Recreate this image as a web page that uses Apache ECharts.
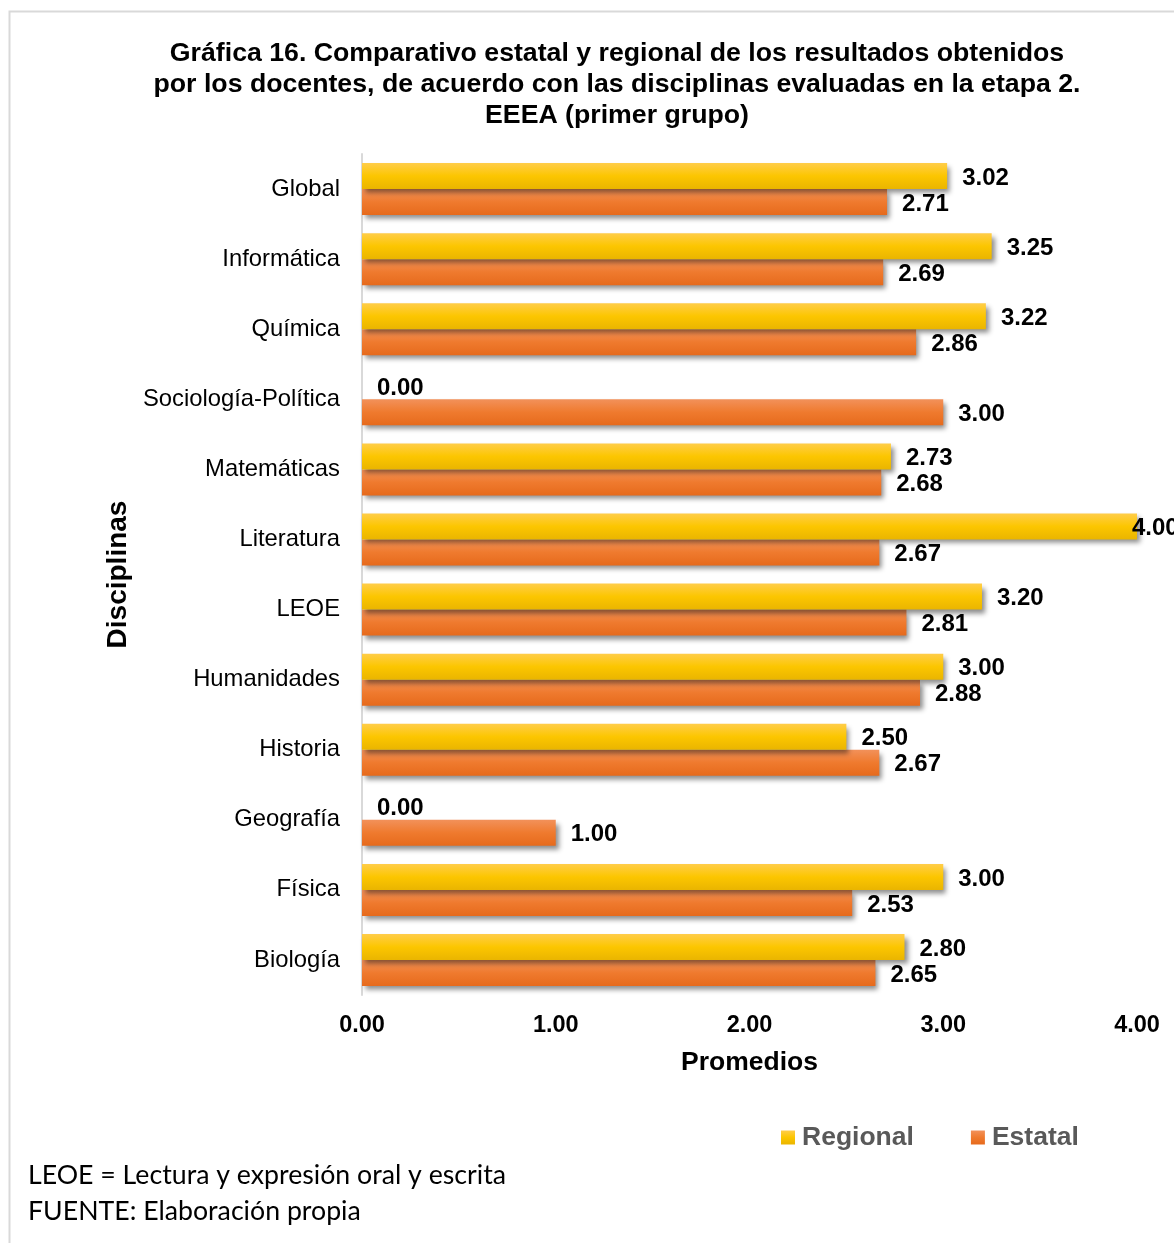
<!DOCTYPE html>
<html>
<head>
<meta charset="utf-8">
<script src="https://cdn.jsdelivr.net/npm/echarts@6/dist/echarts.min.js"></script>
<style>
  html, body { margin: 0; padding: 0; background: #fff; }
  #chart { width: 1174px; height: 1243px; }
</style>
</head>
<body>
<div id="chart"></div>
<script>
// Disciplines, top to bottom
const categories = ['Global', 'Informática', 'Química', 'Sociología-Política', 'Matemáticas',
  'Literatura', 'LEOE', 'Humanidades', 'Historia', 'Geografía', 'Física', 'Biología'];
// Average scores per discipline
const regional = [3.02, 3.25, 3.22, 0.00, 2.73, 4.00, 3.20, 3.00, 2.50, 0.00, 3.00, 2.80];
const estatal  = [2.71, 2.69, 2.86, 3.00, 2.68, 2.67, 2.81, 2.88, 2.67, 1.00, 2.53, 2.65];
const xTicks = [0, 1, 2, 3, 4];

const titleLines = [
  'Gráfica 16. Comparativo estatal y regional de los resultados obtenidos',
  'por los docentes, de acuerdo con las disciplinas evaluadas en la etapa 2.',
  'EEEA (primer grupo)'
];
const notes = ['LEOE = Lectura y expresión oral y escrita', 'FUENTE: Elaboración propia'];

const FONT = '"Liberation Sans", Arial, sans-serif';

const chart = echarts.init(document.getElementById('chart'), null, { renderer: 'canvas' });

const grad = (top, bottom) => new echarts.graphic.LinearGradient(0, 0, 0, 1, [
  { offset: 0, color: top }, { offset: 0.5, color: bottom[0] }, { offset: 1, color: bottom[1] }
]);

const barLabel = {
  show: true,
  position: 'right',
  distance: 15,
  offset: [0, 2],
  color: '#000',
  fontFamily: FONT,
  fontWeight: 'bold',
  fontSize: 24,
  formatter: p => Number(p.value).toFixed(2)
};
const shadow = {
  shadowColor: 'rgba(0,0,0,0.45)',
  shadowBlur: 5,
  shadowOffsetX: 3,
  shadowOffsetY: 4
};

// The bar reaching the axis end keeps its label tucked against it
const regionalData = regional.map(v => v >= xTicks[xTicks.length - 1]
  ? { value: v, label: { distance: -5 } } : v);

chart.setOption({
  animation: false,
  title: {
    text: titleLines.join('\n'),
    left: 612,
    textAlign: 'center',
    top: 33,
    textStyle: {
      fontFamily: FONT,
      fontWeight: 'bold',
      fontSize: 26.7,
      lineHeight: 31,
      color: '#000'
    }
  },
  legend: {
    data: ['Regional', 'Estatal'],
    left: 776,
    top: 1119,
    itemWidth: 14,
    itemHeight: 14,
    itemGap: 57,
    icon: 'rect',
    itemStyle: { shadowBlur: 0, shadowOffsetX: 0, shadowOffsetY: 0 },
    textStyle: {
      fontFamily: FONT,
      fontWeight: 'bold',
      fontSize: 26.5,
      color: '#595959',
      padding: [0, 0, 0, 2]
    }
  },
  grid: { left: 362, right: 37, top: 154, bottom: 248, containLabel: false },
  xAxis: {
    type: 'value',
    min: xTicks[0],
    max: xTicks[xTicks.length - 1],
    interval: 1,
    name: 'Promedios',
    nameLocation: 'middle',
    nameGap: 54,
    nameTextStyle: {
      fontFamily: FONT,
      fontWeight: 'bold',
      fontSize: 26.5,
      color: '#000'
    },
    axisLine: { show: false },
    axisTick: { show: false },
    splitLine: { show: false },
    axisLabel: {
      margin: 19,
      color: '#000',
      fontFamily: FONT,
      fontWeight: 'bold',
      fontSize: 23.5,
      formatter: v => v.toFixed(2)
    }
  },
  yAxis: {
    type: 'category',
    data: categories,
    inverse: true,
    name: 'Disciplinas',
    nameLocation: 'middle',
    nameGap: 229,
    nameRotate: 90,
    nameTextStyle: {
      fontFamily: FONT,
      fontWeight: 'bold',
      fontSize: 28,
      color: '#000'
    },
    axisLine: { show: true, lineStyle: { color: '#d9d9d9', width: 2 } },
    axisTick: { show: false },
    axisLabel: {
      margin: 22,
      color: '#000',
      fontFamily: FONT,
      fontSize: 23.8
    }
  },
  series: [
    {
      name: 'Regional',
      type: 'bar',
      data: regionalData,
      barWidth: 26,
      barGap: '0%',
      itemStyle: Object.assign({ color: grad('#ffcd4a', ['#fcc600', '#eab500']) }, shadow),
      label: barLabel,
      z: 3
    },
    {
      name: 'Estatal',
      type: 'bar',
      data: estatal,
      barWidth: 26,
      itemStyle: Object.assign({ color: grad('#f2915a', ['#ef7a2e', '#e66a1c']) }, shadow),
      label: barLabel,
      z: 2
    }
  ],
  graphic: [
    {
      type: 'rect',
      shape: { x: 9.5, y: 11.5, width: 1300, height: 1400 },
      style: { fill: 'none', stroke: '#d9d9d9', lineWidth: 2 },
      silent: true,
      z: -10
    },
    {
      type: 'text',
      left: 28,
      top: 1157,
      style: {
        text: notes.join('\n'),
        font: '26.7px Lato, "Open Sans", sans-serif',
        lineHeight: 36,
        fill: '#000'
      }
    }
  ]
});
</script>
</body>
</html>
